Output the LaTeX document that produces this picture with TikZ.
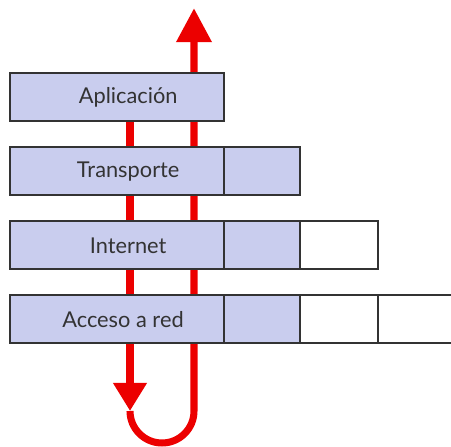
\documentclass[tikz,border=0pt]{standalone}
\usepackage{fontspec}
\setmainfont{Lato}
\usetikzlibrary{positioning,backgrounds,arrows.meta}
\definecolor{layerblue}{RGB}{201,205,238}
\definecolor{flowred}{RGB}{236,0,0}
\definecolor{edgegray}{RGB}{51,51,51}

\begin{document}
\begin{tikzpicture}[
	layer/.style = {draw=edgegray, line width=1.4pt, fill=layerblue, minimum width=5.35cm, minimum height=1.2cm, outer sep=0pt, inner sep=0pt},
	hdr/.style = {layer, minimum width=1.9cm},
	blank/.style = {hdr, fill=white, minimum width=1.95cm},
	flow/.style = {flowred, line width=5pt},
	txt/.style = {text=edgegray, font=\fontsize{15.5}{18}\selectfont}
]
	\clip (0,0) rectangle (11.275,11.175);
	% layers
	\node[layer] (apl) at (2.925,8.74) {};
	\node[layer, below=0.65cm of apl] (tra) {};
	\node[layer, below=0.65cm of tra] (int) {};
	\node[layer, below=0.65cm of int] (acc) {};
	\node[txt] (aplt) at ([xshift=0.28cm]apl.center) {Aplicación};
	\node[txt] (trat) at ([xshift=0.28cm]tra.center) {Transporte};
	\node[txt] (intt) at ([xshift=0.28cm]int.center) {Internet};
	\node[txt] (acct) at ([xshift=0.15cm]acc.center) {Acceso a red};
	% headers
	\node[hdr, right=0pt of tra] (trah) {};
	\node[hdr, right=0pt of int] (inth) {};
	\node[blank, right=0pt of inth] (intb) {};
	\node[hdr, right=0pt of acc] (acch) {};
	\node[blank, right=0pt of acch] (accb) {};
	\node[blank, right=0pt of accb] (accc) {};
	% path of the data
	\begin{scope}[on background layer]
		\coordinate (turn) at (3.25,0.9);
		\coordinate (tip) at (4.85,10.97);
		\draw[flow, -{Triangle[width=0.8cm,length=0.7cm]}] (apl.center -| turn) -- (turn);
		\draw[flow, -{Triangle[width=0.85cm,length=0.85cm]}] (turn) arc (180:360:0.8) -- (tip);
	\end{scope}
\end{tikzpicture}
\end{document}
